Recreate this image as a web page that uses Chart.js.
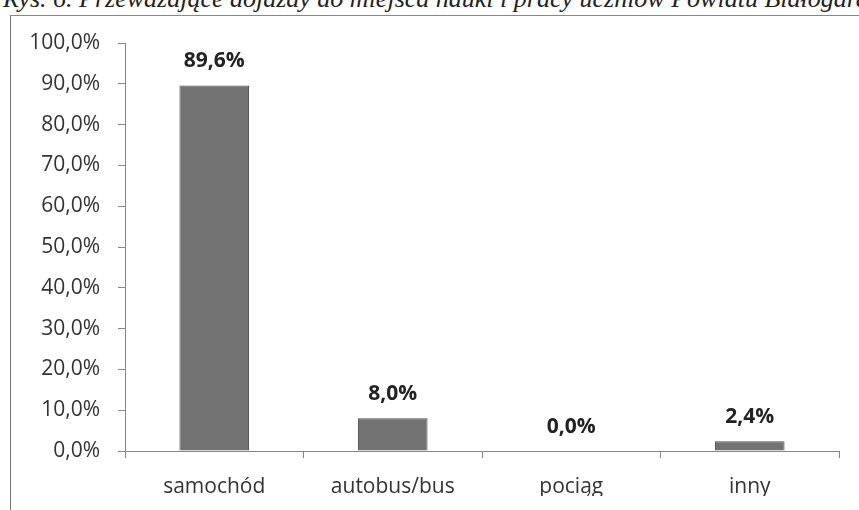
<!DOCTYPE html>
<html>
<head>
<meta charset="utf-8">
<script src="https://cdn.jsdelivr.net/npm/chart.js@4"></script>
<style>
  html, body { margin: 0; padding: 0; background: #fff; overflow: hidden; }
  #wrap { position: relative; width: 859px; height: 510px; overflow: hidden; }
  #title { position: absolute; left: 3px; top: -14px; font: italic 26px "Liberation Serif", serif; line-height: 26px; white-space: nowrap; color: #222; }
  #frame { position: absolute; left: 10px; top: 15px; width: 1000px; height: 1000px; border-left: 1px solid #777; border-top: 1px solid #888; }
  #chart { position: absolute; left: 0; top: 0; }
</style>
</head>
<body>
<div id="wrap">
  <div id="title">Rys. 6. Przeważające dojazdy do miejsca nauki i pracy uczniów Powiatu Białogardzkiego</div>
  <div id="frame"></div>
  <canvas id="chart" width="859" height="510"></canvas>
</div>
<script>
// dane
var categories = ["samochód", "autobus/bus", "pociąg", "inny"];
var values = [89.6, 8.0, 0.0, 2.4];
var yTicks = [0, 10, 20, 30, 40, 50, 60, 70, 80, 90, 100];

function pct(v) {
  return v.toFixed(1).replace(".", ",") + "%";
}

// etykiety nad slupkami
var valueLabels = {
  id: "valueLabels",
  afterDatasetsDraw: function (chart) {
    var ctx = chart.ctx;
    var meta = chart.getDatasetMeta(0);
    ctx.save();
    ctx.font = "bold 21px 'Open Sans'";
    ctx.fillStyle = "#222";
    ctx.textAlign = "center";
    ctx.textBaseline = "middle";
    meta.data.forEach(function (bar, i) {
      ctx.fillText(pct(values[i]), bar.x, bar.y - 24);
    });
    ctx.restore();
  }
};

new Chart("chart", {
  type: "bar",
  data: {
    labels: categories,
    datasets: [{
      data: values,
      backgroundColor: "#727272",
      borderColor: "#4e4e4e",
      borderWidth: 1,
      categoryPercentage: 1,
      barPercentage: 0.39
    }]
  },
  options: {
    responsive: false,
    animation: false,
    layout: { padding: { left: 0, top: 43, right: 20, bottom: 14 } },
    plugins: {
      legend: { display: false },
      tooltip: { enabled: false }
    },
    scales: {
      x: {
        offset: true,
        afterFit: function (s) { s.height = 45; },
        grid: { offset: true, drawOnChartArea: false, drawTicks: true, tickLength: 7, color: "#888" },
        border: { display: true, color: "#888" },
        ticks: { color: "#333", padding: 16, font: { family: "Open Sans", size: 21 } }
      },
      y: {
        min: 0,
        max: 100,
        afterBuildTicks: function (s) { s.ticks = yTicks.map(function (v) { return { value: v }; }); },
        afterFit: function (s) { s.width = 125; },
        grid: { drawOnChartArea: false, drawTicks: true, tickLength: 7, color: "#888" },
        border: { display: true, color: "#888" },
        ticks: {
          color: "#333",
          padding: 18,
          font: { family: "Open Sans", size: 21 },
          callback: function (v) { return pct(v); }
        }
      }
    }
  },
  plugins: [valueLabels]
});
</script>
</body>
</html>
